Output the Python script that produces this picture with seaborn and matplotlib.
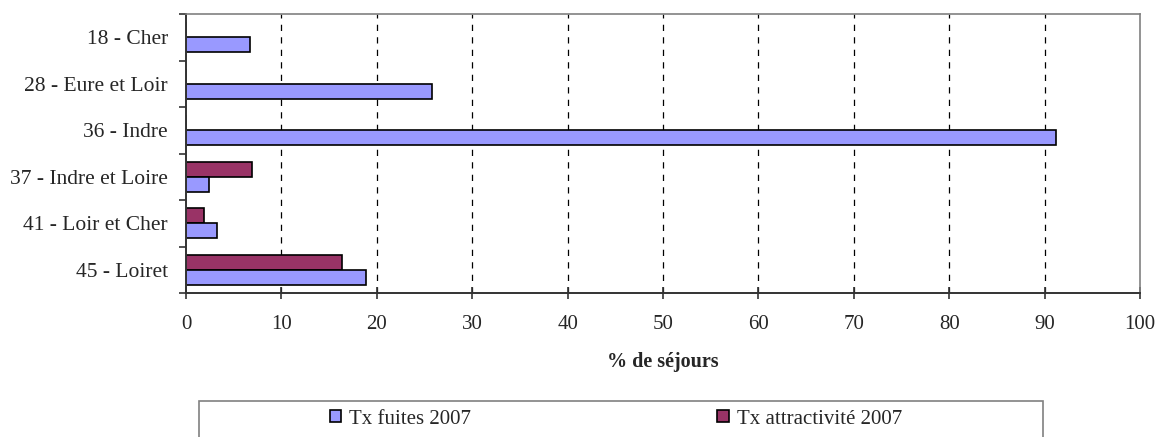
"""Taux de fuites / attractivité 2007 par département (barres horizontales)."""

import pandas as pd
import matplotlib
matplotlib.use("Agg")
import matplotlib.pyplot as plt
from matplotlib.patches import Patch, Rectangle
import seaborn as sns

departements = [
    "18 - Cher",
    "28 - Eure et Loir",
    "36 - Indre",
    "37 - Indre et Loire",
    "41 - Loir et Cher",
    "45 - Loiret",
]
fuites = [6.7, 25.8, 91.2, 2.4, 3.2, 18.9]
attractivite = [0, 0, 0, 6.9, 1.9, 16.3]

serie_fuites = "Tx fuites 2007"
serie_attr = "Tx attractivité 2007"
couleurs = {serie_fuites: "#9999FF", serie_attr: "#993366"}

df = pd.concat([
    pd.DataFrame({"departement": departements, "valeur": attractivite, "serie": serie_attr}),
    pd.DataFrame({"departement": departements, "valeur": fuites, "serie": serie_fuites}),
])

sns.set_style("white")
plt.rcParams["font.family"] = ["Liberation Serif", "DejaVu Serif"]

fig = plt.figure(figsize=(11.58, 4.37), dpi=100)
ax = fig.add_axes([186 / 1158, 1 - 293 / 437, (1140 - 186) / 1158, (293 - 14) / 437])

sns.barplot(
    data=df, x="valeur", y="departement", hue="serie",
    hue_order=[serie_attr, serie_fuites], palette=couleurs, saturation=1,
    order=departements, orient="h", width=0.64,
    edgecolor="black", linewidth=1.2, legend=False, ax=ax,
)

ax.set_xlim(0, 100)
ax.set_ylim(len(departements) - 0.5, -0.5)
ax.set_xticks(range(0, 101, 10))
ax.set_ylabel("")
ax.set_xlabel("% de séjours", fontsize=14.5, fontweight="bold", labelpad=13)

# grille verticale en tirets
for x in range(10, 100, 10):
    ax.axvline(x, color="black", lw=0.9, ls=(0, (5, 5)), zorder=0)

# graduations entre les catégories, comme Excel
ax.set_yticks([i - 0.5 for i in range(len(departements) + 1)], minor=True)
ax.tick_params(axis="y", which="major", length=0, pad=13, labelsize=15.5)
ax.tick_params(axis="y", which="minor", length=5, direction="out", width=1.2, color="#333333", left=True)
ax.tick_params(axis="x", which="major", length=8, direction="inout", width=1.2,
               color="#333333", pad=12, labelsize=15, bottom=True)

for side in ["left", "bottom"]:
    ax.spines[side].set_color("#333333")
    ax.spines[side].set_linewidth(1.4)
for side in ["top", "right"]:
    ax.spines[side].set_visible(True)
    ax.spines[side].set_color("#808080")
    ax.spines[side].set_linewidth(1.2)

# légende en bas, cadre qui déborde de l'image
fig.patches.append(Rectangle(
    (199 / 1158, -0.05), (1043 - 199) / 1158, 0.05 + 1 - 401 / 437,
    transform=fig.transFigure, fill=False, edgecolor="#808080", lw=1.2,
))
handles = [
    Patch(facecolor=couleurs[serie_fuites], edgecolor="black", lw=1.2),
    Patch(facecolor=couleurs[serie_attr], edgecolor="black", lw=1.2),
]
fig.legend(
    handles, [serie_fuites, serie_attr], loc="center",
    bbox_to_anchor=(616 / 1158, 1 - 419 / 437), ncol=2, frameon=False,
    fontsize=15, columnspacing=11.8, handlelength=0.55, handleheight=0.55,
    handletextpad=0.4,
)

fig.savefig("out.png", dpi=100)
